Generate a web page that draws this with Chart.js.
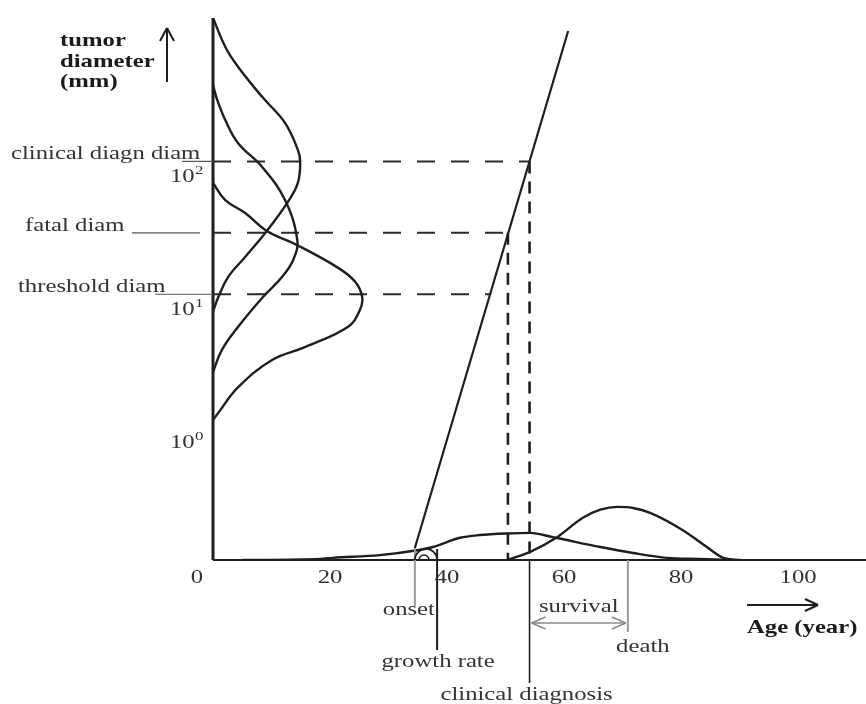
<!DOCTYPE html>
<html>
<head>
<meta charset="utf-8">
<script src="https://cdn.jsdelivr.net/npm/chart.js@4.4.1/dist/chart.umd.min.js"></script>
<style>
  html, body { margin: 0; padding: 0; background: #fff; }
  #wrap { width: 866px; height: 704px; position: relative; }
</style>
</head>
<body>
<div id="wrap"><canvas id="chart"></canvas></div>
<script>
// tick labels
const ageTicks = [0, 20, 40, 60, 80, 100];
const diamExponents = [0, 1, 2];

// diameter levels marked on the y axis (mm)
const levelNames = ["clinical diagn diam", "fatal diam", "threshold diam"];
const levelDiam = [100, 29, 10];
const levelCrossAge = [54.1, 50.4, 47.4]; // where the growth line reaches each level

// distributions lying along the diameter axis (x = relative density, y = diameter mm)
const clinicalDiamDensity = [0, 2.2, 4.3, 8.4, 12.3, 14.5, 14.9, 14.5, 12.8, 9.2, 5.5, 2.6, 0.9, 0];
const clinicalDiamMm = [1200, 713, 514, 306, 195, 122, 99, 68.8, 49.5, 29.9, 19.1, 13.5, 9.5, 7.4];
const fatalDiamDensity = [0, 0.7, 2.1, 4.3, 8.4, 12.3, 14.4, 13.7, 11.8, 8.5, 4.3, 1.5, 0];
const fatalDiamMm = [376, 292, 205, 137, 90.8, 51.2, 25.6, 18.1, 13.5, 9.5, 5.7, 3.8, 2.6];
const thresholdDiamDensity = [0, 2.1, 5.5, 9.2, 14.0, 21.4, 24.3, 25.5, 25.1, 23.1, 15.7, 10.1, 4.3, 0.9, 0];
const thresholdDiamMm = [68.8, 51.2, 40.9, 29.9, 23.9, 15.8, 12.4, 9.5, 7.6, 5.7, 4.0, 3.2, 2.0, 1.28, 1.13];

// distributions along the age axis
const diagAgeYears = [5, 18.3, 20.5, 28.5, 34.9, 37.6, 42.2, 45.6, 50.3, 54.2, 58.1, 66.2, 71.8, 77.6, 83.2, 88.9];
const diagAgeDensity = [0, 0.02, 0.04, 0.09, 0.18, 0.24, 0.41, 0.46, 0.49, 0.5, 0.42, 0.24, 0.13, 0.04, 0.02, 0];
const deathAgeYears = [50.3, 54.2, 58.8, 63.2, 66.2, 69.1, 71.8, 74.7, 80.3, 84.4, 87.2, 90.1];
const deathAgeDensity = [0, 0.15, 0.42, 0.78, 0.93, 0.98, 0.96, 0.87, 0.55, 0.24, 0.04, 0];

// tumour growth line (age, diameter mm)
const growthAge = [34.5, 60.7];
const growthDiam = [0.123, 958];

// events on the age axis
const onsetAge = 34.5;
const growthRateAge = 38.3;
const diagAge = 54.1;
const deathAge = 70.9;

const pts = (xs, ys) => xs.map((x, i) => ({ x: x, y: ys[i] }));
const INK = "#1e1e1e";
const SX = 1.3; // the reference text is stretched horizontally

function line(data, extra) {
  return Object.assign({
    data: data, showLine: true, pointRadius: 0, borderColor: INK,
    borderWidth: 2.4, tension: 0.4, fill: false
  }, extra || {});
}

const datasets = [
  line(pts(clinicalDiamDensity, clinicalDiamMm)),
  line(pts(fatalDiamDensity, fatalDiamMm)),
  line(pts(thresholdDiamDensity, thresholdDiamMm)),
  line(pts(diagAgeYears, diagAgeDensity), { yAxisID: "yDens", cubicInterpolationMode: "monotone" }),
  line(pts(deathAgeYears, deathAgeDensity), { yAxisID: "yDens", cubicInterpolationMode: "monotone" }),
  line(pts(growthAge, growthDiam), { tension: 0, borderWidth: 2.2 })
];
levelDiam.forEach((d, i) => {
  datasets.push(line([{ x: 0, y: d }, { x: levelCrossAge[i], y: d }],
    { tension: 0, borderWidth: 2, borderDash: [18, 16], borderColor: "#2a2a2a" }));
});
[levelCrossAge[0], levelCrossAge[1]].forEach((a, i) => {
  datasets.push(line([{ x: a, y: levelDiam[i] }, { x: a, y: 0.1 }],
    { tension: 0, borderWidth: 2.6, borderDash: [12, 8] }));
});

function sText(ctx, str, x, y, align, bold, size) {
  ctx.save();
  ctx.font = (bold ? "bold " : "") + (size || 19) + 'px "Liberation Serif"';
  const w = ctx.measureText(str).width * SX;
  const x0 = align === "center" ? x - w / 2 : align === "right" ? x - w : x;
  ctx.translate(x0, y);
  ctx.scale(SX, 1);
  ctx.fillText(str, 0, 0);
  ctx.restore();
}

function seg(ctx, x1, y1, x2, y2, color, width) {
  ctx.save();
  ctx.strokeStyle = color;
  ctx.lineWidth = width;
  ctx.beginPath();
  ctx.moveTo(x1, y1);
  ctx.lineTo(x2, y2);
  ctx.stroke();
  ctx.restore();
}

const overlay = {
  id: "overlay",
  beforeDatasetsDraw(chart) {
    const ctx = chart.ctx, a = chart.chartArea;
    seg(ctx, a.left, a.top, a.left, a.bottom, INK, 3);
    seg(ctx, a.left, a.bottom, a.right, a.bottom, INK, 2);
  },
  afterDatasetsDraw(chart) {
    const ctx = chart.ctx, a = chart.chartArea;
    const xs = chart.scales.x, ys = chart.scales.y;
    const base = a.bottom;

    // age ticks
    ctx.fillStyle = "#333";
    ageTicks.forEach(v => {
      const px = xs.getPixelForValue(v);
      if (v === 0) sText(ctx, "0", px - 10, 583, "right");
      else sText(ctx, String(v), px, 583, "center");
    });

    // diameter ticks 10^n
    diamExponents.forEach(e => {
      const py = ys.getPixelForValue(Math.pow(10, e));
      sText(ctx, "10", 170, py + 21, "left");
      sText(ctx, String(e), 195, py + 13, "left", false, 13);
    });

    // level labels with leader lines
    const leaderStart = [182, 132, 155];
    const leaderEnd = [a.left, 200, a.left];
    const labelLeft = [11, 25, 18];
    levelDiam.forEach((d, i) => {
      const py = ys.getPixelForValue(d);
      seg(ctx, leaderStart[i], py, leaderEnd[i], py, "#555", 1.2);
      ctx.fillStyle = "#333";
      sText(ctx, levelNames[i], labelLeft[i], py - 2, "left");
    });

    // y title and arrow
    ctx.fillStyle = "#1a1a1a";
    sText(ctx, "tumor", 60, 46, "left", true);
    sText(ctx, "diameter", 60, 67, "left", true);
    sText(ctx, "(mm)", 60, 87, "left", true);
    seg(ctx, 167, 82, 167, 29, INK, 2);
    seg(ctx, 160, 41, 167, 28, INK, 2);
    seg(ctx, 174, 41, 167, 28, INK, 2);

    // x title and arrow
    sText(ctx, "Age (year)", 747, 633, "left", true);
    seg(ctx, 747, 605, 817, 605, INK, 2);
    seg(ctx, 805, 599, 818, 605, INK, 2);
    seg(ctx, 805, 611, 818, 605, INK, 2);

    // event markers under the axis
    const xOn = xs.getPixelForValue(onsetAge);
    const xGr = xs.getPixelForValue(growthRateAge);
    const xDg = xs.getPixelForValue(diagAge);
    const xDe = xs.getPixelForValue(deathAge);
    seg(ctx, xOn, base - 12, xOn, 606, "#9a9a9a", 2);
    seg(ctx, xGr, base - 11, xGr, 650, INK, 2);
    seg(ctx, xDg, base, xDg, 683, INK, 1.6);
    seg(ctx, xDe, base, xDe, 632, "#9a9a9a", 2);

    // growth rate angle arcs
    const cx = (xOn + xGr) / 2, r = (xGr - xOn) / 2;
    ctx.save();
    ctx.strokeStyle = INK;
    ctx.lineWidth = 1.6;
    ctx.beginPath();
    ctx.arc(cx, base, r, Math.PI, 2 * Math.PI);
    ctx.stroke();
    ctx.beginPath();
    ctx.arc(cx - 2, base, r * 0.45, Math.PI, 2 * Math.PI);
    ctx.stroke();
    ctx.restore();

    // survival arrow
    const ay = 623, gray = "#8a8a8a";
    seg(ctx, xDg + 2, ay, xDe - 2, ay, gray, 1.4);
    seg(ctx, xDg + 2, ay, xDg + 16, ay - 6, gray, 1.4);
    seg(ctx, xDg + 2, ay, xDg + 16, ay + 6, gray, 1.4);
    seg(ctx, xDe - 2, ay, xDe - 16, ay - 6, gray, 1.4);
    seg(ctx, xDe - 2, ay, xDe - 16, ay + 6, gray, 1.4);

    ctx.fillStyle = "#333";
    sText(ctx, "onset", xOn - 6, 615, "center");
    sText(ctx, "growth rate", xGr + 1, 667, "center");
    sText(ctx, "clinical diagnosis", xDg - 3, 700, "center");
    sText(ctx, "survival", (xDg + xDe) / 2, 612, "center");
    sText(ctx, "death", xDe + 15, 652, "center");
  }
};

new Chart(document.getElementById("chart"), {
  type: "scatter",
  data: { datasets: datasets },
  options: {
    responsive: true,
    maintainAspectRatio: false,
    animation: false,
    events: [],
    layout: { padding: { left: 213, top: 18, right: 0, bottom: 144 } },
    plugins: { legend: { display: false }, tooltip: { enabled: false } },
    scales: {
      x: { type: "linear", min: 0, max: 111.6, display: false },
      y: { type: "logarithmic", min: 0.1, max: 1200, display: false },
      yDens: { type: "linear", min: 0, max: 10, display: false }
    }
  },
  plugins: [overlay]
});
</script>
</body>
</html>
